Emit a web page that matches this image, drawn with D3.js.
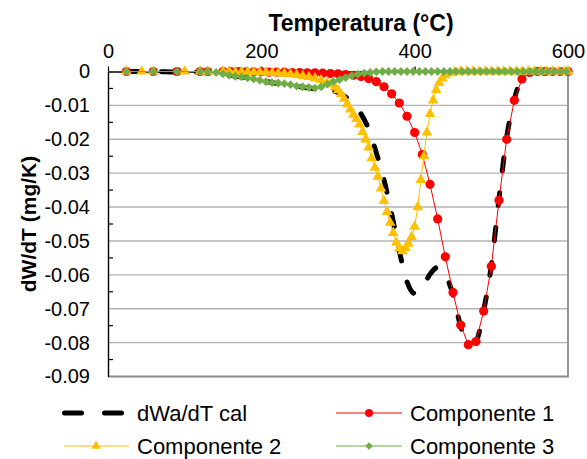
<!DOCTYPE html>
<html><head><meta charset="utf-8">
<script src="https://cdn.jsdelivr.net/npm/d3@7"></script>
<style>body{margin:0;background:#fff}svg{display:block}text{font-family:"Liberation Sans",Arial,sans-serif;fill:#000}</style>
</head><body>
<svg id="c" width="587" height="459"></svg>
<script>
// ---------- data ----------
const xTicks = [0, 200, 400, 600];
const yTicks = [0, -0.01, -0.02, -0.03, -0.04, -0.05, -0.06, -0.07, -0.08, -0.09];
const yMinorTicks = [-0.005, -0.015, -0.025, -0.035, -0.045, -0.055, -0.065, -0.075, -0.085];
const seriesNames = ["dWa/dT cal", "Componente 1", "Componente 2", "Componente 3"];

const calT = [24,50,75,100,125,150,160,170,180,190,200,210,220,230,240,250,260,270,280,290,300,310,320,330,340,350,360,370,380,390,400,410,420,430,440,450,460,470,480,490,500,510,520,530,540,550,560,570,580,590,600];
const calV = [0,0,-0.0001,-0.0002,-0.0003,-0.0007,-0.0011,-0.0015,-0.0018,-0.0022,-0.0026,-0.0031,-0.0035,-0.0038,-0.0041,-0.0045,-0.0048,-0.0051,-0.0053,-0.0056,-0.0062,-0.0075,-0.0095,-0.0125,-0.0170,-0.0240,-0.0320,-0.0420,-0.0530,-0.0620,-0.0655,-0.0638,-0.0598,-0.0578,-0.0600,-0.0658,-0.0752,-0.0803,-0.0795,-0.0705,-0.0572,-0.0375,-0.0195,-0.0082,-0.0020,-0.0002,0,0,0,0,0];

const c1T = [24,59,90,120,130,150,160,170,180,190,200,210,220,230,240,250,260,270,280,290,300,310,320,330,340,350,360,370,380,390,400,410,420,430,440,450,460,470,480,490,500,510,520,530,540,550,560,570,580,590,600];
const c1V = [0,0,0,0,0,0,0,0,-0.0001,-0.0001,-0.0001,-0.0002,-0.0002,-0.0002,-0.0003,-0.0003,-0.0004,-0.0004,-0.0005,-0.0006,-0.0007,-0.0009,-0.0011,-0.0015,-0.0021,-0.0030,-0.0045,-0.0066,-0.0093,-0.0132,-0.0180,-0.0245,-0.0333,-0.0435,-0.0547,-0.0652,-0.0748,-0.0806,-0.0797,-0.0707,-0.0575,-0.0380,-0.0200,-0.0085,-0.0022,-0.0003,0,0,0,0,0];

const c2T = [24,44,59,100,120,130,150,158,166,174,182,190,198,206,214,222,230,238,246,254,262,270,278,286,291,296,300,304,308,312,316,320,324,328,332,336,340,344,348,352,356,360,364,368,372,376,380,384,388,392,396,400,404,408,412,416,420,424,428,432,436,440,446,452,460,468,476,484,492,500,508,516,524,532,540,548,556,564,572,580,588,596,600];
const c2V = [0,0,0,0,0,0,0,0,-0.0001,-0.0001,-0.0001,-0.0002,-0.0002,-0.0003,-0.0004,-0.0005,-0.0006,-0.0008,-0.0010,-0.0013,-0.0016,-0.0020,-0.0025,-0.0032,-0.0038,-0.0046,-0.0055,-0.0066,-0.0080,-0.0096,-0.0112,-0.0127,-0.0140,-0.0156,-0.0178,-0.0200,-0.0224,-0.0256,-0.0284,-0.0310,-0.0345,-0.0382,-0.0414,-0.0446,-0.0476,-0.0505,-0.0522,-0.0530,-0.0521,-0.0508,-0.0488,-0.0458,-0.0400,-0.0320,-0.0250,-0.0180,-0.0125,-0.0085,-0.0055,-0.0034,-0.0020,-0.0011,-0.0005,-0.0002,0,0,0,0,0,0,0,0,0,0,0,0,0,0,0,0,0,0,0];

const c3T = [24,59,90,120,130,141,150,158,166,174,182,190,198,206,214,222,230,238,246,254,262,270,278,286,294,302,310,318,326,334,342,350,358,366,374,382,390,398,406,414,422,430,438,446,454,462,470,478,486,494,502,510,518,526,534,542,550,558,566,574,582,590,598];
const c3V = [0,0,0,0,0,-0.0003,-0.0007,-0.0011,-0.0014,-0.0016,-0.0019,-0.0022,-0.0026,-0.0030,-0.0033,-0.0034,-0.0036,-0.0039,-0.0043,-0.0045,-0.0047,-0.0049,-0.0045,-0.0037,-0.0030,-0.0024,-0.0018,-0.0012,-0.0008,-0.0005,-0.0003,-0.0001,0,0,0,0,0,0,0,0,0,0,0,0,0,0,0,0,0,0,0,0,0,0,0,0,0,0,0,0,0,0,0];

// ---------- chart ----------
const svg = d3.select("#c");
const x = d3.scaleLinear().domain([0, 600]).range([108, 568]);
const y = d3.scaleLinear().domain([-0.09, 0]).range([376.5, 71.5]);
const FONT = '"Liberation Sans",Arial,sans-serif';

// gridlines
svg.append("g").selectAll("line").data(yTicks.filter(d => d !== 0 && d !== -0.09)).join("line")
  .attr("x1", x(0)).attr("x2", x(600)).attr("y1", d => y(d)).attr("y2", d => y(d))
  .attr("stroke", "#b3b3b3").attr("stroke-width", 1.4);
// plot border right/bottom
svg.append("path").attr("d", `M${x(0)},${y(-0.09)}H${x(600)}V${y(0)}`)
  .attr("fill", "none").attr("stroke", "#8a8a8a").attr("stroke-width", 1.8);

// y axis
const yAxis = svg.append("g").attr("transform", `translate(${x(0)},0)`)
  .call(d3.axisLeft(y).tickValues(yTicks).tickSize(0).tickPadding(18)
    .tickFormat(d => d === 0 ? "0" : d.toFixed(2)));
yAxis.select(".domain").attr("stroke", "#000").attr("stroke-width", 1.4);
yAxis.selectAll("text").attr("font-size", 20).attr("font-family", FONT).attr("fill", "#222");
svg.append("g").selectAll("line").data(yMinorTicks).join("line")
  .attr("x1", x(0)).attr("x2", x(0) + 5).attr("y1", d => y(d)).attr("y2", d => y(d))
  .attr("stroke", "#000").attr("stroke-width", 1.2);

// x axis (top, at y=0)
const xAxis = svg.append("g").attr("transform", `translate(0,${y(0)})`)
  .call(d3.axisTop(x).tickValues(xTicks).tickSize(5).tickSizeOuter(0).tickPadding(9));
xAxis.select(".domain").attr("stroke", "#000").attr("stroke-width", 1.4);
xAxis.selectAll(".tick line").attr("stroke", "#000").attr("stroke-width", 1.2);
xAxis.selectAll("text").attr("font-size", 20).attr("font-family", FONT).attr("fill", "#222");

// titles
svg.append("text").attr("x", 361).attr("y", 31).attr("text-anchor", "middle")
  .attr("font-size", 23).attr("font-weight", "bold").text("Temperatura (°C)");
svg.append("text").attr("transform", `translate(36,${(y(0)+y(-0.09))/2}) rotate(-90)`)
  .attr("text-anchor", "middle").attr("font-size", 21).attr("font-weight", "bold").text("dW/dT (mg/K)");

// series
const line = d3.line().x(d => x(d[0])).y(d => y(d[1]));
const zip = (a, b) => a.map((t, i) => [t, b[i]]);
const cal = zip(calT, calV), c1 = zip(c1T, c1V), c2 = zip(c2T, c2V), c3 = zip(c3T, c3V);

const gPlot = svg.append("g");
gPlot.append("path").datum(cal).attr("d", line.curve(d3.curveMonotoneX))
  .attr("fill", "none").attr("stroke", "#000").attr("stroke-width", 5)
  .attr("stroke-dasharray", "13,22").attr("stroke-linecap", "round");
line.curve(d3.curveLinear);

const RED = "#ff0000", YEL = "#ffc000", GRN = "#70ad47";
const tri = d3.symbol().type(d3.symbolTriangle).size(50);
const diamond = s => `M0,${-s}L${s},0L0,${s}L${-s},0Z`;

gPlot.append("path").datum(c1).attr("d", line).attr("fill", "none").attr("stroke", RED).attr("stroke-width", 1);
gPlot.append("g").selectAll("circle").data(c1).join("circle")
  .attr("cx", d => x(d[0])).attr("cy", d => y(d[1])).attr("r", 4.6).attr("fill", RED);

gPlot.append("path").datum(c2).attr("d", line).attr("fill", "none").attr("stroke", YEL).attr("stroke-width", 1);
gPlot.append("g").selectAll("path").data(c2).join("path")
  .attr("transform", d => `translate(${x(d[0])},${y(d[1])})`).attr("d", tri).attr("fill", YEL);

gPlot.append("path").datum(c3).attr("d", line).attr("fill", "none").attr("stroke", GRN).attr("stroke-width", 1);
gPlot.append("g").selectAll("path").data(c3).join("path")
  .attr("transform", d => `translate(${x(d[0])},${y(d[1])})`).attr("d", diamond(4.4)).attr("fill", GRN);

// legend
const lg = svg.append("g");
const r1 = 413, r2 = 446, LFS = 22;
lg.append("line").attr("x1", 64.5).attr("x2", 123).attr("y1", r1).attr("y2", r1)
  .attr("stroke", "#000").attr("stroke-width", 5).attr("stroke-dasharray", "17,23").attr("stroke-linecap", "round");
lg.append("text").attr("x", 137).attr("y", r1 + 8).attr("font-size", LFS).text(seriesNames[0]);

lg.append("line").attr("x1", 336).attr("x2", 402).attr("y1", r1).attr("y2", r1).attr("stroke", RED).attr("stroke-width", 1);
lg.append("circle").attr("cx", 369).attr("cy", r1).attr("r", 4).attr("fill", RED);
lg.append("text").attr("x", 410).attr("y", r1 + 8).attr("font-size", LFS).text(seriesNames[1]);

lg.append("line").attr("x1", 64).attr("x2", 129).attr("y1", r2).attr("y2", r2).attr("stroke", YEL).attr("stroke-width", 1);
lg.append("path").attr("transform", `translate(96,${r2})`).attr("d", d3.symbol().type(d3.symbolTriangle).size(40)).attr("fill", YEL);
lg.append("text").attr("x", 137).attr("y", r2 + 8).attr("font-size", LFS).text(seriesNames[2]);

lg.append("line").attr("x1", 336).attr("x2", 402).attr("y1", r2).attr("y2", r2).attr("stroke", GRN).attr("stroke-width", 1);
lg.append("path").attr("transform", `translate(369,${r2})`).attr("d", diamond(3.8)).attr("fill", GRN);
lg.append("text").attr("x", 410).attr("y", r2 + 8).attr("font-size", LFS).text(seriesNames[3]);
</script>
</body></html>
